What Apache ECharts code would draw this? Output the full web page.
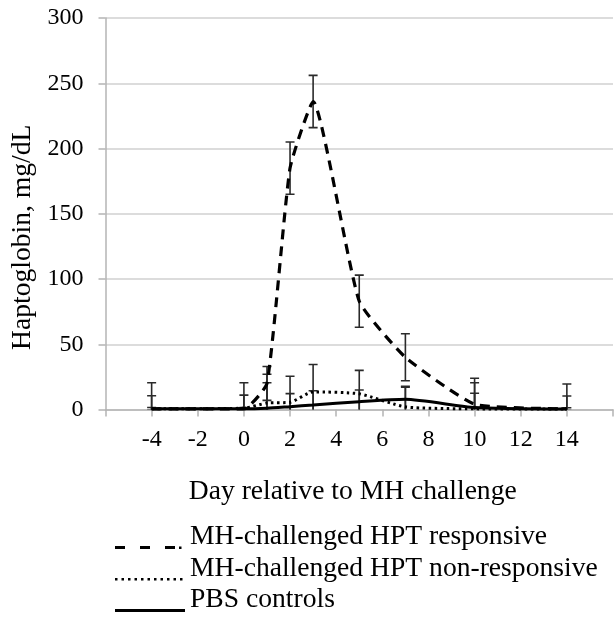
<!DOCTYPE html>
<html>
<head>
<meta charset="utf-8">
<script src="https://cdn.jsdelivr.net/npm/echarts@6/dist/echarts.min.js"></script>
<style>
html,body{margin:0;padding:0;background:#fff;}
#chart{width:616px;height:623px;}
</style>
</head>
<body>
<div id="chart"></div>
<script>
// Day relative to MH challenge
const days = [-4, 0, 1, 2, 3, 5, 7, 10, 14];
// Haptoglobin, mg/dL
const responsive       = [0.5, 0.5, 20, 185, 236, 83, 40, 4, 0.5];
const responsiveErr    = [20, 20, 13, 20, 20, 20, 18, 20, 19];
const nonResponsive    = [0.5, 1, 5, 5.5, 13.5, 12, 2, 0.5, 0.3];
const nonResponsiveErr = [10, 10, 15.5, 20, 21, 18, 15, 12, 10];
const pbs              = [0.5, 0.5, 1, 2.2, 3.4, 6, 7.8, 1.5, 0.3];
const pbsErr           = [1, 1, 26, 10, 11, 9, 10, 19, 1];
const seriesNames = ['MH-challenged HPT responsive', 'MH-challenged HPT non-responsive', 'PBS controls'];
const xTicks = [-4, -2, 0, 2, 4, 6, 8, 10, 12, 14];
const yTicks = [0, 50, 100, 150, 200, 250, 300];

const FONT = 'Liberation Serif, Times New Roman, serif';

function pts(vals) { return days.map((d, i) => [d, vals[i]]); }
function errs(vals, e) { return days.map((d, i) => [d, vals[i] - e[i], vals[i] + e[i]]); }

function renderErr(params, api) {
  const x = api.value(0), lo = api.value(1), hi = api.value(2);
  const a = api.coord([x, lo]), b = api.coord([x, hi]);
  const hw = 4.5;
  const st = { stroke: '#2a2a2a', lineWidth: 1.6 };
  return {
    type: 'group',
    children: [
      { type: 'line', shape: { x1: a[0], y1: a[1], x2: b[0], y2: b[1] }, style: st },
      { type: 'line', shape: { x1: b[0] - hw, y1: b[1], x2: b[0] + hw, y2: b[1] }, style: st },
      { type: 'line', shape: { x1: a[0] - hw, y1: a[1], x2: a[0] + hw, y2: a[1] }, style: st }
    ]
  };
}

function errSeries(vals, e) {
  return {
    type: 'custom', renderItem: renderErr, clip: true, silent: true,
    encode: { x: 0, y: [1, 2] }, data: errs(vals, e), z: 3
  };
}

// legend sample icons (bottom-aligned like text underline)
const anchors = 'M0,0L0,0M70,30L70,30';
function rects(list) { return list.map(r => 'M' + r[0] + ',' + r[1] + 'h' + r[2] + 'v' + r[3] + 'h' + (-r[2]) + 'z').join(''); }
const dashIcon = 'path://' + anchors + rects([[0,24,10,3],[25,24,10,3],[50,24,10,3],[64,24.5,2.5,2.5]]);
const dotList = [];
for (let k = 0; k < 11; k++) dotList.push([k * 6.5, 24.5, 2.5, 2.5]);
const dotIcon = 'path://' + anchors + rects(dotList);
const solidIcon = 'path://' + anchors + rects([[0,24,70,3]]);

const chart = echarts.init(document.getElementById('chart'));
chart.setOption({
  backgroundColor: '#fff',
  animation: false,
  grid: { left: 105.5, top: 18, width: 512.4, height: 391.5, containLabel: false },
  xAxis: {
    type: 'value', min: -6, max: 16, interval: 2,
    name: 'Day relative to MH challenge', nameLocation: 'middle', nameGap: 68,
    nameTextStyle: { fontFamily: FONT, fontSize: 27.6, color: '#000', padding: [0, 13, 0, 0] },
    axisLine: { onZero: false, lineStyle: { color: '#b4b4b4', width: 1.5 } },
    axisTick: { show: true, length: 7, lineStyle: { color: '#b4b4b4', width: 1.5 } },
    splitLine: { show: false },
    axisLabel: {
      margin: 18, fontFamily: FONT, fontSize: 24, color: '#000',
      formatter: v => (xTicks.indexOf(v) >= 0 ? String(v) : '')
    }
  },
  yAxis: {
    type: 'value', min: 0, max: 300, interval: 50,
    name: 'Haptoglobin, mg/dL', nameLocation: 'middle', nameGap: 69,
    nameTextStyle: { fontFamily: FONT, fontSize: 27.6, color: '#000', padding: [0, 47, 0, 0] },
    axisLine: { show: true, onZero: false, lineStyle: { color: '#b4b4b4', width: 1.5 } },
    axisTick: { show: true, length: 7, lineStyle: { color: '#b4b4b4', width: 1.5 } },
    splitLine: { show: true, lineStyle: { color: '#d0d0d0', width: 1.5 } },
    axisLabel: {
      margin: 22, fontFamily: FONT, fontSize: 24, color: '#000',
      formatter: v => (yTicks.indexOf(v) >= 0 ? String(v) : '')
    }
  },
  legend: {
    orient: 'vertical', left: 115, top: 522, padding: 0,
    itemWidth: 70, itemHeight: 30, itemGap: 1.5,
    itemStyle: { color: '#000', borderWidth: 0 },
    textStyle: { fontFamily: FONT, fontSize: 27.6, color: '#000' },
    data: [
      { name: seriesNames[0], icon: dashIcon },
      { name: seriesNames[1], icon: dotIcon },
      { name: seriesNames[2], icon: solidIcon }
    ]
  },
  series: [
    errSeries(responsive, responsiveErr),
    errSeries(nonResponsive, nonResponsiveErr),
    errSeries(pbs, pbsErr),
    {
      name: seriesNames[0], type: 'line', data: pts(responsive), smooth: 0.15,
      symbol: 'none', color: '#000', z: 4,
      lineStyle: { color: '#000', width: 3.2, type: [10, 7], cap: 'butt' }
    },
    {
      name: seriesNames[1], type: 'line', data: pts(nonResponsive), smooth: 0.2,
      symbol: 'none', color: '#000', z: 4,
      lineStyle: { color: '#000', width: 3, type: [2.5, 3.5], cap: 'butt' }
    },
    {
      name: seriesNames[2], type: 'line', data: pts(pbs), smooth: 0.2,
      symbol: 'none', color: '#000', z: 4,
      lineStyle: { color: '#000', width: 3, type: 'solid' }
    }
  ]
});
</script>
</body>
</html>
